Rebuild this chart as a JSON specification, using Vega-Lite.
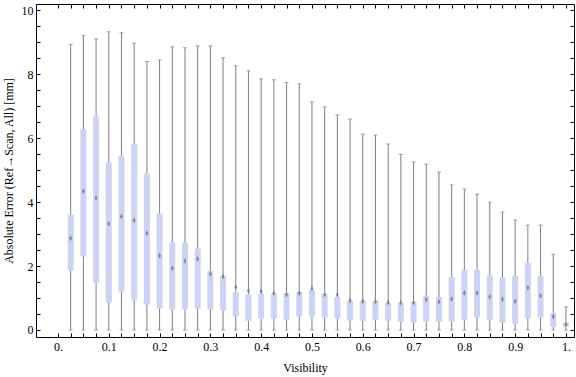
{
  "$schema": "https://vega.github.io/schema/vega-lite/v6.json",
  "width": 538,
  "height": 333,
  "autosize": {"type": "none"},
  "padding": {"left": 36, "top": 4, "right": 2, "bottom": 40},
  "background": "white",
  "config": {
    "view": {"stroke": null},
    "font": "Liberation Serif",
    "axis": {
      "grid": false,
      "domainColor": "#000000",
      "domainWidth": 1,
      "tickColor": "#000000",
      "tickWidth": 1,
      "labelFont": "Liberation Serif",
      "labelFontSize": 12,
      "labelColor": "#000000",
      "titleFont": "Liberation Serif",
      "titleFontSize": 12,
      "titleFontWeight": "normal",
      "titleColor": "#000000",
      "labelOverlap": false
    }
  },
  "data": {
    "values": [
      {"v": 0.025, "lo": 0, "q1": 1.86, "med": 2.87, "q3": 3.61, "hi": 8.93},
      {"v": 0.05, "lo": 0, "q1": 2.30, "med": 4.34, "q3": 6.27, "hi": 9.22},
      {"v": 0.075, "lo": 0, "q1": 1.48, "med": 4.13, "q3": 6.68, "hi": 9.11},
      {"v": 0.1, "lo": 0, "q1": 0.86, "med": 3.32, "q3": 5.24, "hi": 9.33},
      {"v": 0.125, "lo": 0, "q1": 1.20, "med": 3.55, "q3": 5.45, "hi": 9.30},
      {"v": 0.15, "lo": 0, "q1": 0.95, "med": 3.43, "q3": 5.83, "hi": 8.97},
      {"v": 0.175, "lo": 0, "q1": 0.80, "med": 3.03, "q3": 4.90, "hi": 8.40},
      {"v": 0.2, "lo": 0, "q1": 0.67, "med": 2.32, "q3": 3.64, "hi": 8.45},
      {"v": 0.225, "lo": 0, "q1": 0.64, "med": 1.93, "q3": 2.73, "hi": 8.86},
      {"v": 0.25, "lo": 0, "q1": 0.64, "med": 2.16, "q3": 2.73, "hi": 8.83},
      {"v": 0.275, "lo": 0, "q1": 0.67, "med": 2.22, "q3": 2.55, "hi": 8.89},
      {"v": 0.3, "lo": 0, "q1": 0.64, "med": 1.75, "q3": 1.85, "hi": 8.89},
      {"v": 0.325, "lo": 0, "q1": 0.61, "med": 1.67, "q3": 1.69, "hi": 8.52},
      {"v": 0.35, "lo": 0, "q1": 0.42, "med": 1.34, "q3": 1.19, "hi": 8.27},
      {"v": 0.375, "lo": 0, "q1": 0.29, "med": 1.23, "q3": 1.13, "hi": 8.11},
      {"v": 0.4, "lo": 0, "q1": 0.36, "med": 1.21, "q3": 1.13, "hi": 7.86},
      {"v": 0.425, "lo": 0, "q1": 0.36, "med": 1.15, "q3": 1.13, "hi": 7.83},
      {"v": 0.45, "lo": 0, "q1": 0.32, "med": 1.11, "q3": 1.15, "hi": 7.74},
      {"v": 0.475, "lo": 0, "q1": 0.42, "med": 1.15, "q3": 1.19, "hi": 7.70},
      {"v": 0.5, "lo": 0, "q1": 0.42, "med": 1.29, "q3": 1.25, "hi": 7.14},
      {"v": 0.525, "lo": 0, "q1": 0.39, "med": 1.11, "q3": 1.13, "hi": 6.98},
      {"v": 0.55, "lo": 0, "q1": 0.36, "med": 1.10, "q3": 1.03, "hi": 6.73},
      {"v": 0.575, "lo": 0, "q1": 0.29, "med": 0.92, "q3": 0.91, "hi": 6.60},
      {"v": 0.6, "lo": 0, "q1": 0.29, "med": 0.90, "q3": 0.91, "hi": 6.13},
      {"v": 0.625, "lo": 0, "q1": 0.32, "med": 0.89, "q3": 0.91, "hi": 6.10},
      {"v": 0.65, "lo": 0, "q1": 0.29, "med": 0.86, "q3": 0.85, "hi": 5.82},
      {"v": 0.675, "lo": 0, "q1": 0.26, "med": 0.85, "q3": 0.85, "hi": 5.49},
      {"v": 0.7, "lo": 0, "q1": 0.23, "med": 0.86, "q3": 0.88, "hi": 5.26},
      {"v": 0.725, "lo": 0, "q1": 0.26, "med": 0.95, "q3": 1.08, "hi": 5.19},
      {"v": 0.75, "lo": 0, "q1": 0.26, "med": 0.88, "q3": 1.03, "hi": 4.94},
      {"v": 0.775, "lo": 0, "q1": 0.26, "med": 0.97, "q3": 1.66, "hi": 4.54},
      {"v": 0.8, "lo": 0, "q1": 0.32, "med": 1.16, "q3": 1.88, "hi": 4.41},
      {"v": 0.825, "lo": 0, "q1": 0.39, "med": 1.16, "q3": 1.88, "hi": 4.25},
      {"v": 0.85, "lo": 0, "q1": 0.32, "med": 1.04, "q3": 1.71, "hi": 4.00},
      {"v": 0.875, "lo": 0, "q1": 0.23, "med": 0.96, "q3": 1.63, "hi": 3.69},
      {"v": 0.9, "lo": 0, "q1": 0.20, "med": 0.90, "q3": 1.69, "hi": 3.44},
      {"v": 0.925, "lo": 0, "q1": 0.36, "med": 1.32, "q3": 2.10, "hi": 3.28},
      {"v": 0.95, "lo": 0, "q1": 0.39, "med": 1.07, "q3": 1.69, "hi": 3.28},
      {"v": 0.975, "lo": 0, "q1": 0.10, "med": 0.41, "q3": 0.53, "hi": 2.37},
      {"v": 1.0, "lo": 0, "q1": 0.10, "med": 0.18, "q3": 0.23, "hi": 0.72}
    ]
  },
  "resolve": {"axis": {"x": "independent", "y": "independent"}},
  "layer": [
    {
      "mark": {"type": "rule", "color": "#808080", "strokeWidth": 1, "clip": true},
      "encoding": {
        "x": {
          "field": "v", "type": "quantitative",
          "scale": {"domain": [-0.0334, 1.006], "nice": false, "zero": false},
          "axis": {
            "orient": "bottom",
            "title": "Visibility",
            "values": [0, 0.025, 0.05, 0.075, 0.1, 0.125, 0.15, 0.175, 0.2, 0.225, 0.25, 0.275, 0.3, 0.325, 0.35, 0.375, 0.4, 0.425, 0.45, 0.475, 0.5, 0.525, 0.55, 0.575, 0.6, 0.625, 0.65, 0.675, 0.7, 0.725, 0.75, 0.775, 0.8, 0.825, 0.85, 0.875, 0.9, 0.925, 0.95, 0.975, 1],
            "labelExpr": "abs(datum.value*10 - round(datum.value*10)) < 0.001 ? (datum.value == 0 ? '0.' : (datum.value == 1 ? '1.' : format(datum.value, '.1f'))) : ''",
            "tickSize": -4,
            "labelPadding": 8,
            "titlePadding": 10
          }
        },
        "y": {
          "field": "lo", "type": "quantitative",
          "scale": {"domain": [-0.22, 10.2], "nice": false, "zero": false},
          "axis": {
            "orient": "left",
            "title": "Absolute Error (Ref→Scan, All) [mm]",
            "values": [0, 0.5, 1, 1.5, 2, 2.5, 3, 3.5, 4, 4.5, 5, 5.5, 6, 6.5, 7, 7.5, 8, 8.5, 9, 9.5, 10],
            "labelExpr": "datum.value % 2 == 0 ? format(datum.value, 'd') : ''",
            "tickSize": -4,
            "labelPadding": 7,
            "titlePadding": 6
          }
        },
        "y2": {"field": "hi"}
      }
    },
    {
      "mark": {"type": "tick", "orient": "horizontal", "color": "#808080", "size": 4, "thickness": 1, "clip": true},
      "encoding": {
        "x": {
          "field": "v", "type": "quantitative",
          "axis": {
            "orient": "top",
            "title": null,
            "labels": false,
            "values": [0, 0.025, 0.05, 0.075, 0.1, 0.125, 0.15, 0.175, 0.2, 0.225, 0.25, 0.275, 0.3, 0.325, 0.35, 0.375, 0.4, 0.425, 0.45, 0.475, 0.5, 0.525, 0.55, 0.575, 0.6, 0.625, 0.65, 0.675, 0.7, 0.725, 0.75, 0.775, 0.8, 0.825, 0.85, 0.875, 0.9, 0.925, 0.95, 0.975, 1],
            "tickSize": -4
          }
        },
        "y": {
          "field": "hi", "type": "quantitative",
          "axis": {
            "orient": "right",
            "title": null,
            "labels": false,
            "values": [0, 0.5, 1, 1.5, 2, 2.5, 3, 3.5, 4, 4.5, 5, 5.5, 6, 6.5, 7, 7.5, 8, 8.5, 9, 9.5, 10],
            "tickSize": -4
          }
        }
      }
    },
    {
      "mark": {"type": "tick", "orient": "horizontal", "color": "#808080", "size": 4, "thickness": 1, "clip": true},
      "encoding": {
        "x": {"field": "v", "type": "quantitative", "axis": null},
        "y": {"field": "lo", "type": "quantitative", "axis": null}
      }
    },
    {
      "mark": {"type": "bar", "color": "#ccd3f3", "size": 6, "clip": true},
      "encoding": {
        "x": {"field": "v", "type": "quantitative", "axis": null},
        "y": {"field": "q1", "type": "quantitative", "axis": null},
        "y2": {"field": "q3"}
      }
    },
    {
      "mark": {"type": "point", "shape": "M0,-1L0.45,0L0,1L-0.45,0Z", "filled": true, "color": "#7a7a7a", "opacity": 0.85, "size": 36, "clip": true},
      "encoding": {
        "x": {"field": "v", "type": "quantitative", "axis": null},
        "y": {"field": "med", "type": "quantitative", "axis": null}
      }
    }
  ]
}
